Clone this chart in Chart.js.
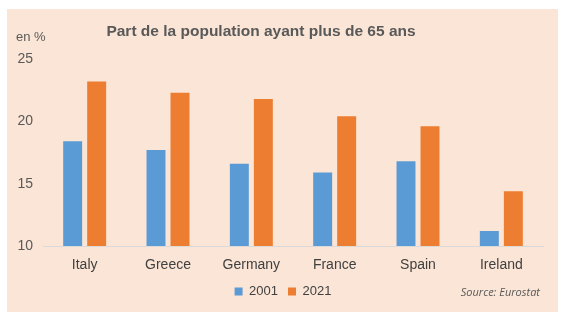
<!DOCTYPE html>
<html><head><meta charset="utf-8">
<script src="https://cdn.jsdelivr.net/npm/chart.js@4"></script>
<style>html,body{margin:0;padding:0;background:#fff;}#wrap{width:566px;height:322px;position:relative;}</style>
</head><body><div id="wrap"><canvas id="c" width="566" height="322"></canvas></div>
<script>
const categories = ["Italy", "Greece", "Germany", "France", "Spain", "Ireland"];
const series2001 = [18.4, 17.7, 16.6, 15.9, 16.8, 11.2];
const series2021 = [23.2, 22.3, 21.8, 20.4, 19.6, 14.4];
const seriesLabels = ["2001", "2021"];
const yTicks = [10, 15, 20, 25];
const titleText = "Part de la population ayant plus de 65 ans";
const unitText = "en %";
const sourceText = "Source: Eurostat";

const bgPlugin = {
  id: 'bg',
  beforeDraw(chart) {
    const ctx = chart.ctx;
    ctx.save();
    ctx.fillStyle = '#ffffff';
    ctx.fillRect(0, 0, chart.width, chart.height);
    ctx.fillStyle = '#FBE5D6';
    ctx.fillRect(7, 9, 551, 303);
    ctx.restore();
  },
  afterDraw(chart) {
    const ctx = chart.ctx;
    ctx.save();
    ctx.fillStyle = '#595959';
    ctx.textBaseline = 'middle';
    ctx.textAlign = 'center';
    ctx.font = 'bold 15.5px "Liberation Sans", Arial, sans-serif';
    ctx.fillText(titleText, 261, 32);
    ctx.textAlign = 'left';
    ctx.font = '13px "Liberation Sans", Arial, sans-serif';
    ctx.fillText(unitText, 16, 37);
    ctx.textAlign = 'right';
    ctx.font = 'italic 11px "Open Sans", sans-serif';
    ctx.fillText(sourceText, 540, 293);
    ctx.restore();
  }
};

new Chart(document.getElementById('c'), {
  type: 'bar',
  data: {
    labels: categories,
    datasets: [
      { label: seriesLabels[0], data: series2001, backgroundColor: '#5B9BD5', categoryPercentage: 0.576, barPercentage: 0.79 },
      { label: seriesLabels[1], data: series2021, backgroundColor: '#ED7D31', categoryPercentage: 0.576, barPercentage: 0.79 }
    ]
  },
  plugins: [bgPlugin],
  options: {
    responsive: false,
    animation: false,
    devicePixelRatio: 1,
    layout: { padding: { top: 59, left: 0, right: 0, bottom: 14 } },
    plugins: {
      title: { display: false },
      tooltip: { enabled: false },
      legend: {
        position: 'bottom',
        labels: {
          boxWidth: 8, boxHeight: 8, padding: 10,
          color: '#404040',
          font: { family: '"Liberation Sans", Arial, sans-serif', size: 13 }
        }
      }
    },
    scales: {
      x: {
        grid: { display: false },
        border: { display: true, color: '#D9D9D9', width: 1 },
        ticks: { color: '#404040', padding: 3, font: { family: '"Liberation Sans", Arial, sans-serif', size: 14 } },
        afterFit(s) { s.height = 29; }
      },
      y: {
        min: 10, max: 25,
        grid: { display: false, drawTicks: false },
        border: { display: false },
        afterBuildTicks(s) { s.ticks = yTicks.map(v => ({ value: v })); },
        ticks: { color: '#595959', padding: 10, font: { family: '"Liberation Sans", Arial, sans-serif', size: 14 } },
        afterFit(s) { s.width = 43; }
      },
      yRight: {
        type: 'linear',
        position: 'right',
        display: true,
        grid: { display: false, drawTicks: false },
        border: { display: false },
        ticks: { display: false },
        afterFit(s) { s.width = 23; }
      }
    }
  }
});
</script></body></html>
